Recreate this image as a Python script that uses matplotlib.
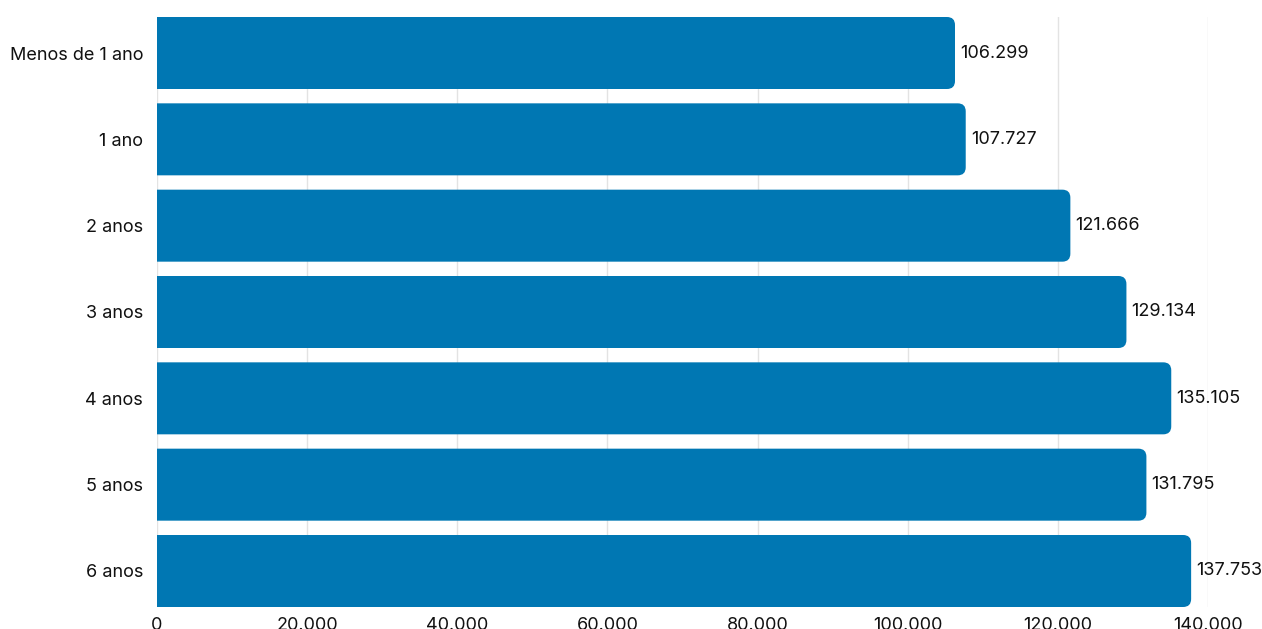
import matplotlib
matplotlib.use("Agg")
import matplotlib.pyplot as plt
from matplotlib.patches import PathPatch
from matplotlib.path import Path

categories = ["Menos de 1 ano", "1 ano", "2 anos", "3 anos", "4 anos", "5 anos", "6 anos"]
values = [106299, 107727, 121666, 129134, 135105, 131795, 137753]
xticks = [0, 20000, 40000, 60000, 80000, 100000, 120000, 140000]

plt.rcParams['font.family'] = ['Inter', 'DejaVu Sans']

W, H = 1262, 629
fig = plt.figure(figsize=(W / 100, H / 100), dpi=100)
ax = fig.add_axes([157 / W, (H - 607) / H, (1208 - 157) / W, 590 / H])

color = "#0077B3"
bar_h = 0.834
xmax = 140000
fs = 13
ax.set_xlim(0, xmax)
ax.set_ylim(len(categories) - 1 + bar_h / 2, -bar_h / 2)

px_per_x = (1208 - 157) / xmax
px_per_y = 590 / (len(categories) - 1 + bar_h)
r_px = 8
rx = r_px / px_per_x
ry = r_px / px_per_y

bars = ax.barh(range(len(categories)), values, height=bar_h, color="none")
for i, (b, v) in enumerate(zip(bars, values)):
    y0 = b.get_y()
    y1 = y0 + bar_h
    verts = [(0, y0), (v - rx, y0), (v, y0), (v, y0 + ry), (v, y1 - ry),
             (v, y1), (v - rx, y1), (0, y1), (0, y0)]
    codes = [Path.MOVETO, Path.LINETO, Path.CURVE3, Path.CURVE3, Path.LINETO,
             Path.CURVE3, Path.CURVE3, Path.LINETO, Path.CLOSEPOLY]
    ax.add_patch(PathPatch(Path(verts, codes), facecolor=color, edgecolor="none", zorder=3))
    ax.text(v + 5 / px_per_x, i, f"{v:,}".replace(",", "."), va="center", ha="left",
            fontsize=fs, color="#111111", clip_on=False, zorder=4)

ax.set_yticks(range(len(categories)))
ax.set_yticklabels(categories, fontsize=fs, color="#111111")
ax.set_xticks(xticks)
ax.set_xticklabels([f"{t:,}".replace(",", ".") for t in xticks], fontsize=fs, color="#111111")
ax.tick_params(axis="y", length=0, pad=10)
ax.tick_params(axis="x", length=0, pad=7)
for s in ax.spines.values():
    s.set_visible(False)
ax.grid(axis="x", color="#e3e3e3", linewidth=1, zorder=0)
ax.set_axisbelow(True)

fig.savefig("out.png", dpi=100)
